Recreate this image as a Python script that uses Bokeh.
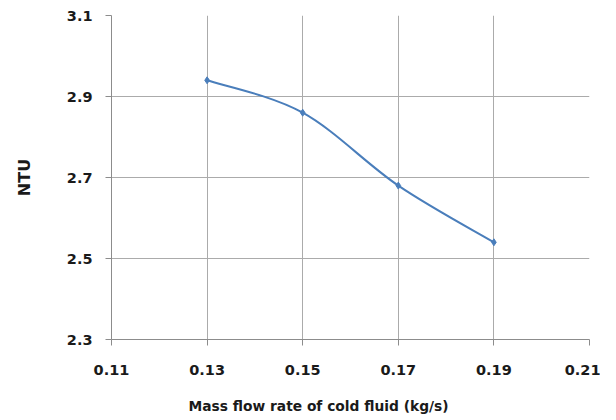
from bokeh.plotting import figure
from bokeh.models import FixedTicker, PrintfTickFormatter, Range1d, Title
from bokeh.embed import file_html
from bokeh.resources import INLINE

# data
mass_flow = [0.13, 0.15, 0.17, 0.19]
ntu = [2.94, 2.86, 2.68, 2.54]
x_ticks = [0.11, 0.13, 0.15, 0.17, 0.19, 0.21]
y_ticks = [2.3, 2.5, 2.7, 2.9, 3.1]
x_title = "Mass flow rate of cold fluid (kg/s)"
y_title = "NTU"

LINE = "#4a7ebb"
GRID = "#ababab"
TXT = "#1a1a1a"
FONT = "DejaVu Sans"

p = figure(width=600, height=420, output_backend="svg", toolbar_location=None,
           x_range=Range1d(0.11, 0.21), y_range=Range1d(2.3, 3.1),
           min_border_left=111, min_border_right=11, min_border_top=15, min_border_bottom=81)
p.outline_line_color = None
p.background_fill_color = "white"
p.border_fill_color = "white"

# smoothed line (Catmull-Rom style bezier segments, like Excel's smoothed line)
n = len(mass_flow)
x0, y0, x1, y1, cx0, cy0, cx1, cy1 = [], [], [], [], [], [], [], []
for i in range(n - 1):
    pm = i - 1 if i > 0 else i
    pn = i + 2 if i + 2 < n else i + 1
    x0.append(mass_flow[i]); y0.append(ntu[i])
    x1.append(mass_flow[i + 1]); y1.append(ntu[i + 1])
    cx0.append(mass_flow[i] + (mass_flow[i + 1] - mass_flow[pm]) / 6)
    cy0.append(ntu[i] + (ntu[i + 1] - ntu[pm]) / 6)
    cx1.append(mass_flow[i + 1] - (mass_flow[pn] - mass_flow[i]) / 6)
    cy1.append(ntu[i + 1] - (ntu[pn] - ntu[i]) / 6)
p.bezier(x0=x0, y0=y0, x1=x1, y1=y1, cx0=cx0, cy0=cy0, cx1=cx1, cy1=cy1,
         line_color=LINE, line_width=2)
p.scatter(mass_flow, ntu, marker="diamond", size=7, fill_color=LINE, line_color=LINE)

for ax in (p.xaxis[0], p.yaxis[0]):
    ax.axis_line_color = "#8c8c8c"
    ax.major_tick_line_color = "#8c8c8c"
    ax.major_tick_out = 6
    ax.major_tick_in = 0
    ax.minor_tick_line_color = None
    ax.major_label_text_font = FONT
    ax.major_label_text_font_style = "bold"
    ax.major_label_text_font_size = "14.5px"
    ax.major_label_text_color = TXT

p.xaxis.ticker = FixedTicker(ticks=x_ticks)
p.yaxis.ticker = FixedTicker(ticks=y_ticks)
p.xaxis.formatter = PrintfTickFormatter(format="%.2f")
p.yaxis.formatter = PrintfTickFormatter(format="%.1f")
p.xaxis.major_label_standoff = 19
p.yaxis.major_label_standoff = 13

p.yaxis.axis_label = y_title
p.yaxis.axis_label_text_font = FONT
p.yaxis.axis_label_text_font_style = "bold"
p.yaxis.axis_label_text_font_size = "16px"
p.yaxis.axis_label_text_color = TXT
p.yaxis.axis_label_standoff = 30

p.xgrid.ticker = FixedTicker(ticks=x_ticks)
p.ygrid.ticker = FixedTicker(ticks=y_ticks)
p.grid.grid_line_color = GRID
p.grid.grid_line_width = 1

# x-axis title (sits left of the plot centre, as in the reference)
t = Title(text=x_title, align="left", offset=77, vertical_align="top", text_font=FONT,
          text_font_style="bold", text_font_size="13.8px", text_color=TXT, standoff=0,
          padding=dict(top=20, bottom=0, left=0, right=0))
p.add_layout(t, "below")

open("out.html", "w").write(file_html(p, INLINE))
